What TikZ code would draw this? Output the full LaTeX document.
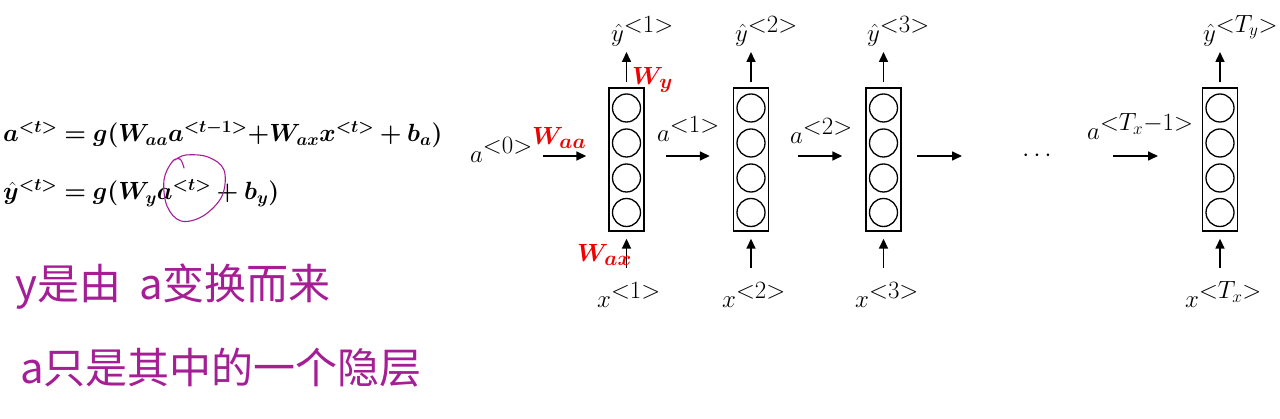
\documentclass[tikz,border=0pt]{standalone}
\usepackage{fontspec}
\usepackage{bm}
\usetikzlibrary{arrows.meta}
\newfontfamily\cjk{Noto Sans CJK SC}
\definecolor{ink}{RGB}{165,30,150}
\definecolor{wred}{RGB}{240,0,0}
\DeclareMathSizes{30}{30}{23}{16}
\DeclareMathSizes{27}{27}{20}{15}
\DeclareMathSizes{25}{25}{19}{14}
\tikzset{
  cellbox/.style={draw, line width=1.4pt, minimum width=35pt, minimum height=143pt, inner sep=0pt},
  unitc/.style={circle, draw, line width=1.3pt, minimum size=28pt, inner sep=0pt},
  arr/.style={-{Triangle[length=10pt,width=9pt]}, line width=1.6pt},
  lbl/.style={font=\fontsize{30}{33}\selectfont, inner sep=0pt, anchor=base west},
  wlab/.style={text=wred, font=\fontsize{27}{30}\selectfont, inner sep=0pt, anchor=base west},
  eq/.style={font=\fontsize{25}{29}\selectfont, inner sep=0pt, anchor=base west},
  note/.style={font=\cjk\fontsize{42}{46}\selectfont, text=ink, inner sep=0pt, anchor=west},
}
\begin{document}
\begin{tikzpicture}[x=1pt,y=-1pt]
\useasboundingbox (0,0) rectangle (1280,419);
\fill[white] (0,0) rectangle (1280,419);

% formulas
\node[eq] (eq1) at (3,142) {$\bm{a^{<t>} = g(W_{aa}a^{<t-1>}{+}W_{ax}x^{<t>} + b_a)}$};
\node[eq] (eq2) at (3,200) {$\bm{\hat{y}^{<t>} = g(W_ya^{<t>} + b_y)}$};
\draw[ink, line width=1.1pt, line cap=round] plot[smooth, tension=0.6] coordinates {(184,168) (180,159) (172,162) (164,180) (167,206) (181,221) (203,216) (222,196) (224,170) (208,157) (186,155) (175,160)};

% notes
\node[note] (n1) at (15,287) {y是由\hspace{18pt}a变换而来};
\node[note] (n2) at (20,368) {a只是其中的一个隐层};

% cells
\foreach \n/\x in {1/626.5,2/751,3/883.5,4/1220}{
  \node[cellbox] (b\n) at (\x,159.5) {};
  \foreach \k/\dy in {1/-51.5,2/-16.5,3/18.5,4/53}{
    \node[unitc] (u\n\k) at (\x,159.5+\dy) {};
  }
}

% top / bottom labels
\node[lbl] (yh1) at (611,42) {$\hat{y}^{<1>}$};
\node[lbl] (yh2) at (735,42) {$\hat{y}^{<2>}$};
\node[lbl] (yh3) at (867,42) {$\hat{y}^{<3>}$};
\node[lbl] (yh4) at (1203,42) {$\hat{y}^{<T_y>}$};
\node[lbl] (x1) at (597,308) {$x^{<1>}$};
\node[lbl] (x2) at (722,308) {$x^{<2>}$};
\node[lbl] (x3) at (855,308) {$x^{<3>}$};
\node[lbl] (x4) at (1185,308) {$x^{<T_x>}$};

% vertical arrows
\foreach \n/\x in {1/626.5,2/751,3/883.5,4/1220}{
  \coordinate (ot\n) at (\x,52);
  \coordinate (ib\n) at (\x,268);
  \draw[arr, shorten <=5pt] (b\n.north) -- (ot\n);
  \draw[arr, shorten >=7pt] (ib\n) -- (b\n.south);
}

% horizontal arrows
\coordinate (h0s) at (543,156);
\coordinate (h1s) at (666,156);
\coordinate (h2s) at (798,156);
\coordinate (h3s) at (917,156);
\coordinate (h3e) at (962,156);
\coordinate (h4s) at (1113,156);
\coordinate (h4e) at (1158,156);
\draw[arr, shorten >=22pt] (h0s) -- (b1.west |- h0s);
\draw[arr, shorten >=23pt] (h1s) -- (b2.west |- h1s);
\draw[arr, shorten >=23pt] (h2s) -- (b3.west |- h2s);
\draw[arr] (h3s) -- (h3e);
\draw[arr] (h4s) -- (h4e);
\node[font=\fontsize{30}{33}\selectfont, inner sep=0pt] (dots) at (1037,156) {$\cdots$};

% horizontal labels
\node[lbl] (a0) at (470,163) {$a^{<0>}$};
\node[lbl] (a1) at (657,142) {$a^{<1>}$};
\node[lbl] (a2) at (790,144) {$a^{<2>}$};
\node[lbl] (a4) at (1087,140) {$a^{<T_x-1>}$};

% weights
\node[wlab] (wy) at (632,85) {$\bm{W_y}$};
\node[wlab] (waa) at (532,145) {$\bm{W_{aa}}$};
\node[wlab] (wax) at (577,262) {$\bm{W_{ax}}$};
\end{tikzpicture}
\end{document}
